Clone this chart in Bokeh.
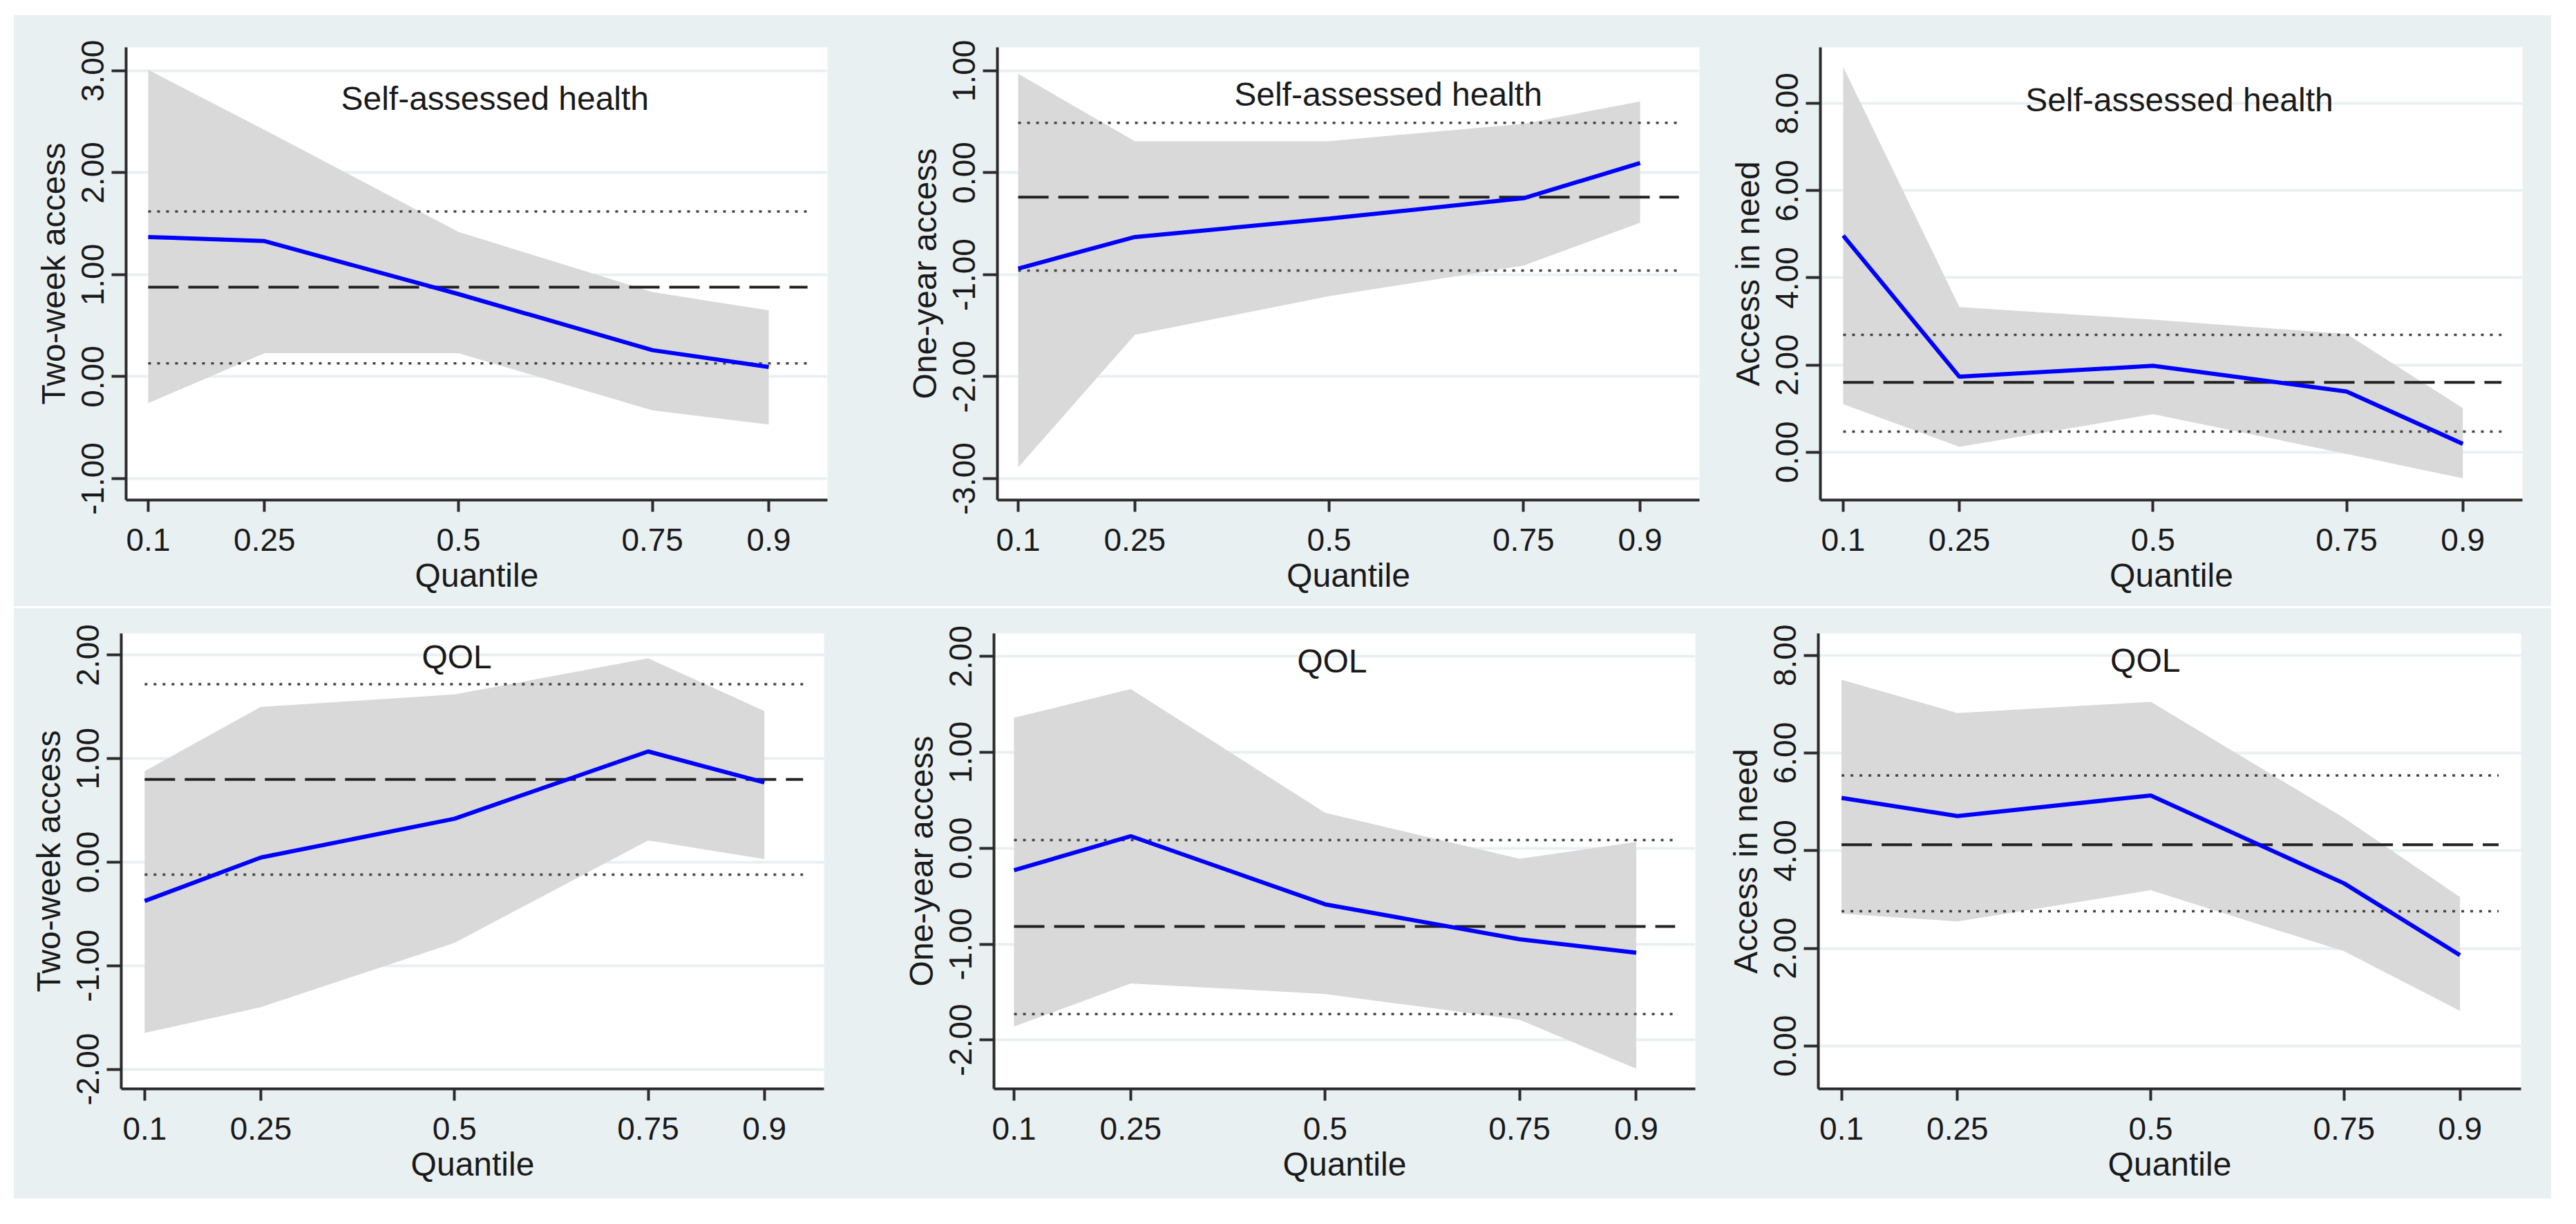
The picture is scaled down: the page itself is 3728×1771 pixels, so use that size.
from bokeh.plotting import figure
from bokeh.models import FixedTicker, NumeralTickFormatter, Label, Range1d, Spacer
from bokeh.layouts import row, column
from bokeh.embed import file_html
from bokeh.resources import INLINE

# ---------------- data ----------------
quantiles = [0.1, 0.25, 0.5, 0.75, 0.9]
quantile_labels = ["0.1", "0.25", "0.5", "0.75", "0.9"]
ref_x_end = 0.95

# Two-week access, Self-assessed health
tw_sah_est = [1.37, 1.33, 0.81, 0.26, 0.095]
tw_sah_lo = [-0.26, 0.23, 0.23, -0.33, -0.47]
tw_sah_hi = [3.01, 2.42, 1.42, 0.83, 0.65]
tw_sah_ols = [0.877, 0.13, 1.62]          # estimate, lower, upper

# One-year access, Self-assessed health
oy_sah_est = [-0.94, -0.63, -0.45, -0.25, 0.095]
oy_sah_lo = [-2.89, -1.59, -1.21, -0.91, -0.49]
oy_sah_hi = [0.97, 0.31, 0.31, 0.48, 0.70]
oy_sah_ols = [-0.24, -0.96, 0.49]

# Access in need, Self-assessed health
an_sah_est = [4.97, 1.73, 1.98, 1.39, 0.19]
an_sah_lo = [1.10, 0.12, 0.87, -0.04, -0.60]
an_sah_hi = [8.84, 3.33, 3.04, 2.71, 1.01]
an_sah_ols = [1.60, 0.47, 2.69]

# Two-week access, QOL
tw_qol_est = [-0.375, 0.045, 0.42, 1.07, 0.77]
tw_qol_lo = [-1.65, -1.40, -0.78, 0.21, 0.03]
tw_qol_hi = [0.88, 1.50, 1.62, 1.97, 1.46]
tw_qol_ols = [0.80, -0.12, 1.72]

# One-year access, QOL
oy_qol_est = [-0.23, 0.126, -0.585, -0.95, -1.09]
oy_qol_lo = [-1.86, -1.41, -1.52, -1.79, -2.30]
oy_qol_hi = [1.36, 1.66, 0.37, -0.11, 0.065]
oy_qol_ols = [-0.816, -1.73, 0.085]

# Access in need, QOL
an_qol_est = [5.08, 4.71, 5.13, 3.33, 1.86]
an_qol_lo = [2.71, 2.55, 3.19, 1.94, 0.72]
an_qol_hi = [7.50, 6.82, 7.05, 4.67, 3.05]
an_qol_ols = [4.12, 2.76, 5.54]

ylabels = ["Two-week access", "One-year access", "Access in need"]
titles = ["Self-assessed health", "QOL"]
xlabel = "Quantile"

yticks_tw_sah = [-1, 0, 1, 2, 3]
yticks_oy_sah = [-3, -2, -1, 0, 1]
yticks_an = [0, 2, 4, 6, 8]
yticks_qol = [-2, -1, 0, 1, 2]

# ---------------- style ----------------
BG = "#E9F0F2"
GRID = "#E9F0F3"
AXIS = "#2b2b2b"
TXT = "#1a1a1a"
FONT = "Liberation Sans"
FILL = "#D9D9D9"
BLUE = "#0000FF"


def make_panel(est, lo, hi, ols, ylabel, title, yticks, yr, xr, title_xy,
               borders, size):
    w, h = size
    bl, br, bt, bb = borders
    p = figure(width=w, height=h, x_range=Range1d(*xr), y_range=Range1d(*yr),
               output_backend="svg", toolbar_location=None, tools="", title=None,
               min_border_left=bl, min_border_right=br,
               min_border_top=bt, min_border_bottom=bb,
               background_fill_color="white", border_fill_color=BG,
               outline_line_color=None)
    # grid
    p.xgrid.visible = False
    p.ygrid.ticker = FixedTicker(ticks=yticks)
    p.ygrid.grid_line_color = GRID
    p.ygrid.grid_line_width = 4

    # CI band
    p.varea(x=quantiles, y1=lo, y2=hi, fill_color=FILL, fill_alpha=1.0)
    # OLS reference lines
    x0 = quantiles[0]
    p.line(x=[x0, ref_x_end], y=[ols[2], ols[2]], line_color="#444444",
           line_width=3.5, line_dash="4 9")
    p.line(x=[x0, ref_x_end], y=[ols[1], ols[1]], line_color="#444444",
           line_width=3.5, line_dash="4 9")
    p.line(x=[x0, ref_x_end], y=[ols[0], ols[0]], line_color="#222222",
           line_width=4, line_dash="44 14")
    # quantile estimates
    p.line(x=quantiles, y=est, line_color=BLUE, line_width=6)

    # title inside plot
    p.add_layout(Label(x=title_xy[0], y=title_xy[1], text=title,
                       text_align="center", text_baseline="alphabetic",
                       text_font=FONT, text_font_size="48px", text_color=TXT))

    # x axis
    xa = p.xaxis[0]
    xa.ticker = FixedTicker(ticks=quantiles)
    xa.major_label_overrides = {q: l for q, l in zip(quantiles, quantile_labels)}
    xa.axis_label = xlabel
    # y axis
    ya = p.yaxis[0]
    ya.ticker = FixedTicker(ticks=yticks)
    ya.formatter = NumeralTickFormatter(format="0.00")
    ya.major_label_orientation = "vertical"
    ya.axis_label = ylabel

    for ax in (xa, ya):
        ax.axis_line_color = AXIS
        ax.axis_line_width = 4
        ax.major_tick_line_color = AXIS
        ax.major_tick_line_width = 4
        ax.major_tick_in = 0
        ax.minor_tick_line_color = None
        ax.major_label_text_font = FONT
        ax.major_label_text_font_size = "46px"
        ax.major_label_text_color = TXT
        ax.axis_label_text_font = FONT
        ax.axis_label_text_font_size = "48px"
        ax.axis_label_text_font_style = "normal"
        ax.axis_label_text_color = TXT
    xa.major_tick_out = 17
    xa.major_label_standoff = 24
    xa.axis_label_standoff = 6
    ya.major_tick_out = 21
    ya.major_label_standoff = 11
    ya.axis_label_standoff = 12
    return p


W = 1224
HT = 855
HB = 854

p1 = make_panel(tw_sah_est, tw_sah_lo, tw_sah_hi, tw_sah_ols, ylabels[0], titles[0],
                yticks_tw_sah, (-1.21, 3.23), (0.0715, 0.9757), (0.547, 2.73),
                (162, 47, 36, 154), (W, HT))
p2 = make_panel(oy_sah_est, oy_sah_lo, oy_sah_hi, oy_sah_ols, ylabels[1], titles[0],
                yticks_oy_sah, (-3.21, 1.23), (0.0733, 0.9764), (0.576, 0.77),
                (199, 9, 36, 154), (W, HT))
p3 = make_panel(an_sah_est, an_sah_lo, an_sah_hi, an_sah_ols, ylabels[2], titles[0],
                yticks_an, (-1.10, 9.29), (0.0706, 0.977), (0.534, 8.08),
                (166, 42, 46, 145), (W, HT))
p4 = make_panel(tw_qol_est, tw_qol_lo, tw_qol_hi, tw_qol_ols, ylabels[0], titles[1],
                yticks_qol, (-2.19, 2.21), (0.0698, 0.977), (0.503, 1.985),
                (155, 52, 32, 159), (W, HB))
p5 = make_panel(oy_qol_est, oy_qol_lo, oy_qol_hi, oy_qol_ols, ylabels[1], titles[1],
                yticks_qol, (-2.51, 2.24), (0.0742, 0.976), (0.509, 1.95),
                (194, 15, 32, 157), (W, HB))
p6 = make_panel(an_qol_est, an_qol_lo, an_qol_hi, an_qol_ols, ylabels[2], titles[1],
                yticks_an, (-0.88, 8.45), (0.07, 0.979), (0.493, 7.90),
                (163, 44, 36, 153), (W, HB))

top = row(p1, p2, p3, styles={"background-color": BG})
bottom = row(p4, p5, p6, styles={"background-color": BG})
grid = column(top, Spacer(height=3), bottom)
layout = column(Spacer(height=22), row(Spacer(width=20), grid))

open("out.html", "w").write(file_html(layout, INLINE))
